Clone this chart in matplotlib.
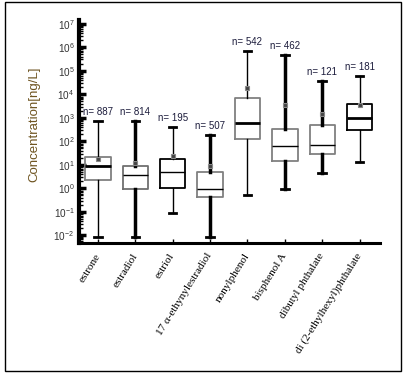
import matplotlib
matplotlib.use("Agg")
import matplotlib.pyplot as plt
from matplotlib.patches import Rectangle
from matplotlib.ticker import LogLocator, FixedLocator, NullFormatter

# ---- data (log10 of concentration, ng/L) ----
categories = ["estrone", "estradiol", "estriol", "17 \u03b1-ethynylestradiol",
              "nonylphenol", "bisphenol A", "dibutyl phthalate",
              "di (2-ethylhexyl)phthalate"]
n_counts = [887, 814, 195, 507, 542, 462, 121, 181]
whisker_low = [-2.05, -2.05, -1.03, -2.05, -0.27, -0.01, 0.64, 1.13]
q1_vals = [0.36, -0.03, 0.02, -0.38, 2.11, 1.18, 1.45, 2.47]
median_vals = [0.94, 0.57, 0.71, -0.03, 2.78, 1.82, 1.85, 2.99]
q3_vals = [1.32, 0.94, 1.26, 0.70, 3.82, 2.52, 2.69, 3.58]
whisker_high = [2.86, 2.86, 2.61, 2.28, 5.85, 5.67, 4.55, 4.77]
mean_vals = [1.26, 1.09, 1.37, 0.97, 4.27, 3.53, 3.15, 3.55]
ytick_exps = [-2, -1, 0, 1, 2, 3, 4, 5, 6, 7]

# styling per box
box_colors = ["#808080", "#707070", "#000000", "#808080", "#808080", "#808080", "#808080", "#000000"]
median_widths = [2.0, 1.0, 1.0, 1.0, 2.0, 1.0, 1.0, 2.0]
whisker_widths = [1.0, 2.5, 1.0, 2.5, 1.0, 2.5, 2.5, 1.0]

fig = plt.figure(figsize=(4.07, 3.75), dpi=100)
ax = fig.add_axes([0.193, 0.352, 0.741, 0.595])

stats = []
for i in range(len(categories)):
    stats.append(dict(med=10 ** median_vals[i], q1=10 ** q1_vals[i], q3=10 ** q3_vals[i],
                      whislo=10 ** whisker_low[i], whishi=10 ** whisker_high[i],
                      mean=10 ** mean_vals[i], fliers=[], label=categories[i]))

pos = list(range(len(categories)))
res = ax.bxp(stats, positions=pos, widths=0.68, showmeans=True, showfliers=False,
             capwidths=0.2, patch_artist=False,
             meanprops=dict(marker='s', markersize=3.5, markerfacecolor='#444444',
                            markeredgecolor='#888888', markeredgewidth=0.8))

for i in range(len(categories)):
    res['boxes'][i].set_color(box_colors[i])
    res['boxes'][i].set_linewidth(1.3)
    res['medians'][i].set_color('black')
    res['medians'][i].set_linewidth(median_widths[i])
    for w in res['whiskers'][2 * i:2 * i + 2]:
        w.set_color('black')
        w.set_linewidth(whisker_widths[i])
    for c in res['caps'][2 * i:2 * i + 2]:
        c.set_color('black')
        c.set_linewidth(2.0)
    ax.annotate(f"n= {n_counts[i]}", xy=(pos[i], 10 ** whisker_high[i]),
                xytext=(0, 6.5), textcoords='offset points', ha='center', va='center',
                fontsize=7, family='Liberation Sans', color='#1c1c3c')

ax.set_yscale('log')
ax.set_ylim(10 ** -2.32, 10 ** 7.16)
ax.set_xlim(-0.52, 7.55)

ax.yaxis.set_major_locator(FixedLocator([10.0 ** e for e in ytick_exps]))
ax.set_yticklabels([f"$\\mathregular{{10^{{{e}}}}}$" for e in ytick_exps],
                   fontsize=7.2, family='Liberation Sans', color='#333333')
ax.yaxis.set_minor_locator(LogLocator(base=10, subs=range(2, 10), numticks=50))
ax.yaxis.set_minor_formatter(NullFormatter())
ax.tick_params(axis='y', which='major', length=5, width=2.5, direction='in', pad=3)
ax.tick_params(axis='y', which='minor', length=3, width=1.0, direction='in')

ax.set_xticks(pos)
ax.set_xticklabels(categories, rotation=58, ha='right', va='center',
                   rotation_mode='anchor', fontsize=8, family='Liberation Serif')
ax.tick_params(axis='x', which='major', length=3, width=1.0, direction='in', pad=8)

for s in ['top', 'right']:
    ax.spines[s].set_visible(False)
ax.spines['left'].set_linewidth(3.0)
ax.spines['bottom'].set_linewidth(2.2)

ax.set_ylabel("Concentration[ng/L]", fontsize=9.5, family='Liberation Sans',
              color='#6e5420')
ax.yaxis.set_label_coords(-0.125, 0.534)

# outer frame
fig.patches.append(Rectangle((5 / 407, 1 - 371 / 375), 396 / 407, 369 / 375,
                             transform=fig.transFigure, fill=False,
                             edgecolor='black', linewidth=1.0))

fig.savefig("out.png", dpi=100)
